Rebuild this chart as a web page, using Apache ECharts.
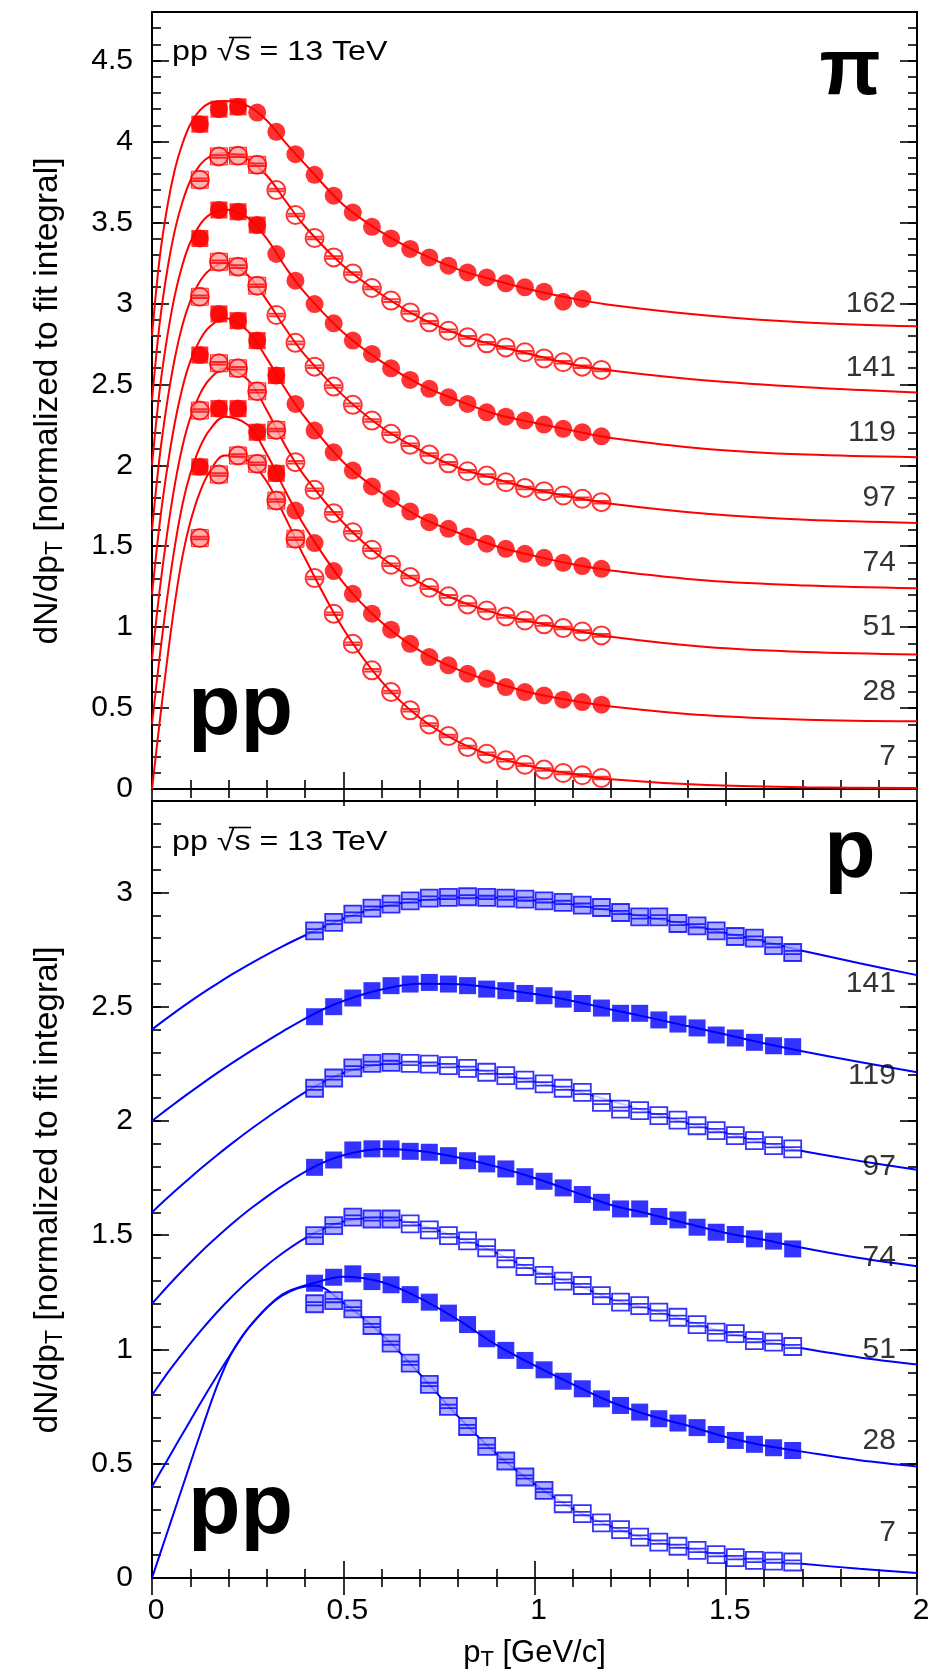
<!DOCTYPE html>
<html><head><meta charset="utf-8">
<script src="https://cdn.jsdelivr.net/npm/echarts/dist/echarts.min.js"></script>
<style>html,body{margin:0;padding:0;background:#fff}#c{width:944px;height:1674px}</style>
</head><body><div id="c"></div>
<script>
// ---------------- DATA ----------------
const pionX = [0.125,0.175,0.225,0.275,0.325,0.375,0.425,0.475,0.525,0.575,0.625,0.675,0.725,0.775,0.825,0.875,0.925,0.975,1.025,1.075,1.125,1.175];
const pion162 = [4.107,4.20,4.214,4.179,4.06,3.922,3.794,3.665,3.562,3.473,3.401,3.336,3.284,3.233,3.191,3.16,3.124,3.099,3.072,3.01,3.027];
const pion141 = [3.764,3.908,3.912,3.856,3.70,3.546,3.404,3.284,3.185,3.095,3.017,2.944,2.883,2.831,2.79,2.753,2.728,2.698,2.66,2.636,2.609,2.589];
const pion119 = [3.401,3.577,3.566,3.484,3.305,3.14,2.996,2.877,2.77,2.688,2.599,2.527,2.472,2.42,2.379,2.327,2.30,2.276,2.251,2.225,2.204,2.179];
const pion97  = [3.041,3.257,3.227,3.109,2.928,2.756,2.609,2.486,2.373,2.276,2.194,2.126,2.066,2.012,1.963,1.936,1.895,1.86,1.84,1.813,1.793,1.772];
const pion74  = [2.681,2.935,2.893,2.77,2.554,2.379,2.214,2.08,1.967,1.869,1.793,1.714,1.648,1.607,1.56,1.515,1.484,1.453,1.428,1.397,1.377,1.36];
const pion51  = [2.338,2.63,2.599,2.457,2.218,2.019,1.848,1.704,1.586,1.478,1.385,1.309,1.243,1.19,1.14,1.103,1.066,1.041,1.017,0.994,0.973,0.949];
const pion28  = [1.99,2.35,2.35,2.204,1.95,1.72,1.519,1.346,1.206,1.083,0.984,0.897,0.815,0.764,0.712,0.681,0.63,0.599,0.578,0.552,0.537,0.521];
const pion7   = [1.55,1.943,2.06,2.009,1.782,1.546,1.303,1.083,0.897,0.733,0.599,0.486,0.399,0.327,0.259,0.218,0.177,0.15,0.12,0.099,0.085,0.068];

const pionFitX   = [0,0.02,0.04,0.06,0.08,0.1,0.125,0.15,0.19,0.25,0.3,0.35,0.4,0.5,0.6,0.7,0.8,0.9,1.0,1.1,1.2,1.45,1.71,2.0];
const pionFit162 = [2.8,3.279,3.598,3.83,3.989,4.105,4.192,4.236,4.25,4.22,4.13,3.99,3.86,3.61,3.44,3.31,3.21,3.14,3.08,3.03,2.99,2.925,2.882,2.858];
const pionFit141 = [2.4,2.876,3.206,3.454,3.629,3.756,3.854,3.905,3.93,3.89,3.79,3.63,3.475,3.232,3.055,2.912,2.81,2.74,2.68,2.622,2.585,2.523,2.482,2.45];
const pionFit119 = [2.0,2.463,2.796,3.054,3.242,3.376,3.485,3.547,3.58,3.53,3.40,3.22,3.065,2.82,2.64,2.50,2.40,2.315,2.262,2.214,2.169,2.101,2.066,2.05];
const pionFit97  = [1.6,2.052,2.394,2.666,2.869,3.014,3.135,3.205,3.25,3.175,3.02,2.84,2.68,2.43,2.235,2.095,1.985,1.915,1.85,1.803,1.762,1.70,1.663,1.644];
const pionFit74  = [1.2,1.638,1.985,2.267,2.484,2.642,2.773,2.854,2.91,2.83,2.66,2.466,2.295,2.02,1.83,1.68,1.583,1.50,1.44,1.388,1.35,1.288,1.257,1.24];
const pionFit51  = [0.8,1.227,1.585,1.885,2.121,2.292,2.438,2.53,2.6,2.53,2.34,2.115,1.93,1.645,1.43,1.275,1.165,1.085,1.03,0.984,0.94,0.877,0.846,0.831];
const pionFit28  = [0.4,0.816,1.185,1.504,1.762,1.947,2.11,2.216,2.3,2.25,2.07,1.835,1.62,1.275,1.03,0.855,0.737,0.655,0.59,0.545,0.51,0.455,0.428,0.418];
const pionFit7   = [0,0.412,0.803,1.154,1.442,1.648,1.833,1.957,2.06,2.03,1.90,1.67,1.425,0.99,0.665,0.44,0.293,0.197,0.135,0.092,0.06,0.024,0.011,0.006];

const protonX = [0.425,0.475,0.525,0.575,0.625,0.675,0.725,0.775,0.825,0.875,0.925,0.975,1.025,1.075,1.125,1.175,1.225,1.275,1.325,1.375,1.425,1.475,1.525,1.575,1.625,1.675];
const proton141 = [2.832,2.869,2.905,2.931,2.949,2.963,2.975,2.978,2.981,2.978,2.975,2.971,2.963,2.956,2.944,2.934,2.912,2.893,2.893,2.864,2.854,2.832,2.807,2.80,2.767,2.737];
const proton119 = [2.456,2.50,2.538,2.57,2.592,2.599,2.606,2.599,2.592,2.577,2.57,2.558,2.548,2.533,2.514,2.494,2.471,2.471,2.442,2.424,2.407,2.376,2.363,2.344,2.329,2.325];
const proton97  = [2.143,2.188,2.232,2.252,2.256,2.252,2.249,2.242,2.23,2.213,2.198,2.179,2.162,2.143,2.125,2.081,2.052,2.045,2.023,2.004,1.979,1.958,1.936,1.914,1.892,1.878];
const proton74  = [1.797,1.829,1.873,1.878,1.878,1.867,1.863,1.848,1.826,1.812,1.79,1.756,1.736,1.707,1.678,1.644,1.615,1.615,1.582,1.567,1.535,1.513,1.503,1.484,1.474,1.44];
const proton51  = [1.498,1.542,1.579,1.571,1.571,1.55,1.523,1.498,1.475,1.445,1.397,1.363,1.324,1.299,1.28,1.236,1.207,1.192,1.163,1.141,1.109,1.076,1.069,1.039,1.032,1.013];
const proton28  = [1.29,1.316,1.331,1.297,1.283,1.24,1.207,1.159,1.109,1.047,0.996,0.952,0.911,0.861,0.828,0.784,0.755,0.726,0.697,0.678,0.658,0.628,0.602,0.585,0.57,0.558];
const proton7   = [1.20,1.214,1.178,1.105,1.028,0.94,0.847,0.751,0.663,0.576,0.512,0.442,0.383,0.325,0.282,0.241,0.212,0.179,0.157,0.139,0.121,0.102,0.089,0.077,0.074,0.07];

const protonFitX   = [0,0.02,0.05,0.09,0.13,0.17,0.21,0.26,0.34,0.425,0.5,0.6,0.7,0.8,0.9,1.0,1.1,1.2,1.3,1.4,1.5,1.6,1.7,1.85,2.0];
const protonFit141 = [2.4,2.426,2.463,2.511,2.557,2.6,2.642,2.691,2.763,2.831,2.885,2.937,2.965,2.978,2.977,2.965,2.947,2.92,2.89,2.86,2.822,2.785,2.745,2.69,2.638];
const protonFit119 = [2.0,2.026,2.064,2.114,2.162,2.209,2.254,2.308,2.39,2.47,2.525,2.575,2.6,2.598,2.58,2.555,2.525,2.488,2.452,2.415,2.378,2.34,2.305,2.258,2.213];
const protonFit97  = [1.6,1.632,1.678,1.737,1.795,1.85,1.903,1.966,2.06,2.15,2.21,2.248,2.255,2.238,2.207,2.172,2.134,2.088,2.038,1.99,1.948,1.905,1.868,1.825,1.786];
const protonFit74  = [1.2,1.238,1.293,1.363,1.43,1.492,1.551,1.619,1.715,1.8,1.85,1.877,1.868,1.84,1.80,1.75,1.692,1.632,1.593,1.55,1.51,1.48,1.445,1.40,1.364];
const protonFit51  = [0.8,0.848,0.918,1.005,1.087,1.163,1.233,1.312,1.42,1.51,1.56,1.578,1.545,1.49,1.423,1.345,1.29,1.222,1.177,1.125,1.074,1.036,1.005,0.965,0.934];
const protonFit28  = [0.4,0.458,0.545,0.66,0.775,0.885,0.99,1.11,1.24,1.292,1.318,1.295,1.225,1.13,1.02,0.93,0.847,0.77,0.712,0.667,0.617,0.58,0.553,0.515,0.488];
const protonFit7   = [0,0.10,0.25,0.45,0.65,0.84,0.99,1.11,1.235,1.28,1.205,1.068,0.893,0.707,0.544,0.412,0.303,0.226,0.168,0.13,0.096,0.075,0.062,0.04,0.022];

const pionLabels   = ['162','141','119','97','74','51','28','7'];
const pionLabelY   = [3.0,2.6,2.2,1.8,1.4,1.0,0.6,0.2];
const protonLabels = ['141','119','97','74','51','28','7'];
const protonLabelY = [2.6,2.2,1.8,1.4,1.0,0.6,0.2];
const labelX = 1.946;

// ---------------- STYLE ----------------
const FONT = '"Liberation Sans", Arial, Helvetica, sans-serif';
const RED = '#ff0000', PINK = '#ff9d9d', BLUE = '#0000ff', PALE = '#9a9aff';
const OPEN_CIRCLE = 'path://M10,0A10,10,0,1,1,10,20A10,10,0,1,1,10,0Z M1.5,8.6L18.5,8.6 M1.5,11.4L18.5,11.4';
const OPEN_SQUARE = 'path://M0,0L20,0L20,20L0,20Z M0,8L20,8 M0,12L20,12';

const pionSets = [
  {y: pion162, fit: pionFit162, filled: true,  boxed: 3},
  {y: pion141, fit: pionFit141, filled: false, boxed: 4},
  {y: pion119, fit: pionFit119, filled: true,  boxed: 4},
  {y: pion97,  fit: pionFit97,  filled: false, boxed: 4},
  {y: pion74,  fit: pionFit74,  filled: true,  boxed: 5},
  {y: pion51,  fit: pionFit51,  filled: false, boxed: 5},
  {y: pion28,  fit: pionFit28,  filled: true,  boxed: 5},
  {y: pion7,   fit: pionFit7,   filled: false, boxed: 6}
];
const protonSets = [
  {y: proton141, fit: protonFit141, filled: false, pale: 26},
  {y: proton119, fit: protonFit119, filled: true},
  {y: proton97,  fit: protonFit97,  filled: false, pale: 5},
  {y: proton74,  fit: protonFit74,  filled: true},
  {y: proton51,  fit: protonFit51,  filled: false, pale: 5},
  {y: proton28,  fit: protonFit28,  filled: true},
  {y: proton7,   fit: protonFit7,   filled: false, pale: 13}
];

const pairs = (xs, ys) => ys.map((v, i) => [xs[i], v]);
const series = [];

pionSets.forEach(s => {
  series.push({type: 'line', xAxisIndex: 0, yAxisIndex: 0, data: pairs(pionFitX, s.fit), smooth: 0.35,
    symbol: 'none', lineStyle: {color: RED, width: 2}, z: 2, silent: true});
  const pts = pairs(pionX, s.y);
  series.push({type: 'scatter', xAxisIndex: 0, yAxisIndex: 0, data: pts.slice(0, s.boxed), symbol: 'rect', symbolSize: 17,
    itemStyle: s.filled ? {color: RED} : {color: PINK, borderColor: RED, borderWidth: 1}, z: 3, silent: true});
  series.push({type: 'scatter', xAxisIndex: 0, yAxisIndex: 0, data: pts, symbol: s.filled ? 'circle' : OPEN_CIRCLE, symbolSize: 18,
    itemStyle: s.filled ? {color: RED} : {color: 'rgba(255,255,255,0)', borderColor: RED, borderWidth: 2}, z: 4, silent: true});
});
protonSets.forEach(s => {
  series.push({type: 'line', xAxisIndex: 2, yAxisIndex: 4, data: pairs(protonFitX, s.fit), smooth: 0.35,
    symbol: 'none', lineStyle: {color: BLUE, width: 2}, z: 2, silent: true});
  const pts = pairs(protonX, s.y);
  if (s.filled) {
    series.push({type: 'scatter', xAxisIndex: 2, yAxisIndex: 4, data: pts, symbol: 'rect', symbolSize: 17,
      itemStyle: {color: BLUE}, z: 4, silent: true});
  } else {
    const pc = s.pale;
    series.push({type: 'scatter', xAxisIndex: 2, yAxisIndex: 4, data: pts, symbol: OPEN_SQUARE, symbolSize: 17,
      itemStyle: {color: p => (p.dataIndex < pc ? PALE : '#ffffff'), borderColor: BLUE, borderWidth: 1.8}, z: 4, silent: true});
  }
});
const labelStyle = {show: true, position: 'left', distance: 0, formatter: '{b}', fontSize: 30, fontFamily: FONT, color: '#000'};
series.push({type: 'scatter', xAxisIndex: 0, yAxisIndex: 0, symbolSize: 1, itemStyle: {color: 'rgba(0,0,0,0)'},
  data: pionLabels.map((t, i) => ({name: t, value: [labelX, pionLabelY[i]]})), label: labelStyle, z: 6, silent: true});
series.push({type: 'scatter', xAxisIndex: 2, yAxisIndex: 4, symbolSize: 1, itemStyle: {color: 'rgba(0,0,0,0)'},
  data: protonLabels.map((t, i) => ({name: t, value: [labelX, protonLabelY[i]]})), label: labelStyle, z: 6, silent: true});

// ---------------- AXES ----------------
const TICK = {color: '#000', width: 1.6};
function xAx(gi, pos, labels) {
  return {type: 'value', gridIndex: gi, position: pos, min: 0, max: 2, interval: 0.5,
    axisLine: {show: false}, splitLine: {show: false},
    axisTick: {show: true, inside: true, length: 17, lineStyle: TICK},
    minorTick: {show: true, splitNumber: 5, length: 9, lineStyle: TICK},
    axisLabel: {show: labels, fontSize: 30, fontFamily: FONT, color: '#000', margin: 18, padding: [0, 0, 0, 8]}};
}
function yAx(gi, pos, max, major, labels) {
  return {type: 'value', gridIndex: gi, position: pos, min: 0, max: max, interval: major ? 0.5 : 0.1,
    axisLine: {show: false}, splitLine: {show: false},
    axisTick: {show: true, inside: true, length: major ? 17 : 9, lineStyle: TICK},
    axisLabel: {show: labels, showMaxLabel: false, fontSize: 30, fontFamily: FONT, color: '#000', margin: 19}};
}
const xAxis = [xAx(0, 'bottom', false), xAx(0, 'top', false), xAx(1, 'bottom', true), xAx(1, 'top', false)];
const yAxis = [
  yAx(0, 'left', 4.8, true, true), yAx(0, 'left', 4.8, false, false), yAx(0, 'right', 4.8, true, false), yAx(0, 'right', 4.8, false, false),
  yAx(1, 'left', 3.4, true, true), yAx(1, 'left', 3.4, false, false), yAx(1, 'right', 3.4, true, false), yAx(1, 'right', 3.4, false, false)
];
const gridStyle = {show: true, borderColor: '#000', borderWidth: 2, backgroundColor: 'rgba(0,0,0,0)', left: 152, width: 765, height: 777};

// ---------------- TEXT ----------------
function yTitle(cy) {
  return {type: 'text', x: 48, y: cy, rotation: Math.PI / 2, z: 10, silent: true,
    style: {text: '{a|dN/dp}{s|T}{a| [normalized to fit integral]}', fill: '#000', align: 'center', verticalAlign: 'middle',
      rich: {a: {fontSize: 33.5, fontFamily: FONT, lineHeight: 38}, s: {fontSize: 23, fontFamily: FONT, lineHeight: 21, verticalAlign: 'bottom'}}}};
}
function txt(x, y, text, size, bold, align, sx) {
  return {type: 'text', x: x, y: y, z: 10, silent: true, scaleX: sx || 1,
    style: {text: text, fill: '#000', fontSize: size, fontFamily: FONT, fontWeight: bold ? 'bold' : 'normal', align: align || 'left', verticalAlign: 'middle'}};
}
function vinculum(y) {
  return {type: 'line', z: 10, silent: true, shape: {x1: 229, y1: y, x2: 251, y2: y}, style: {stroke: '#000', lineWidth: 1.6}};
}
const graphic = [
  yTitle(401), yTitle(1190),
  {type: 'text', x: 534.5, y: 1653, z: 10, silent: true,
    style: {text: '{a|p}{s|T}{a| [GeV/c]}', fill: '#000', align: 'center', verticalAlign: 'middle',
      rich: {a: {fontSize: 31, fontFamily: FONT, lineHeight: 36}, s: {fontSize: 22, fontFamily: FONT, lineHeight: 20, verticalAlign: 'bottom'}}}},
  txt(172, 52, 'pp \u221As = 13 TeV', 28, false, 'left', 1.15),
  txt(172, 842, 'pp \u221As = 13 TeV', 28, false, 'left', 1.15),
  vinculum(37.5), vinculum(827.5),
  txt(188, 710, 'pp', 86, true),
  txt(188, 1509, 'pp', 86, true),
  txt(850, 72, '\u03C0', 80, true, 'center'),
  txt(850, 854, 'p', 84, true, 'center')
];

const chart = echarts.init(document.getElementById('c'), null, {renderer: 'canvas'});
chart.setOption({
  animation: false,
  grid: [Object.assign({top: 12}, gridStyle), Object.assign({top: 801}, gridStyle)],
  xAxis: xAxis, yAxis: yAxis, series: series, graphic: graphic
});
</script></body></html>
